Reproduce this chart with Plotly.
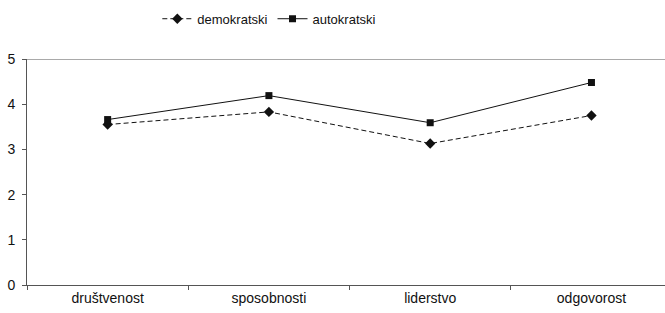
import plotly.graph_objects as go

categories = ["društvenost", "sposobnosti", "liderstvo", "odgovorost"]
demokratski = [3.55, 3.83, 3.13, 3.75]
autokratski = [3.66, 4.19, 3.59, 4.48]
y_ticks = [0, 1, 2, 3, 4, 5]

fig = go.Figure()
fig.add_trace(go.Scatter(
    x=categories, y=demokratski, name="demokratski", mode="lines+markers",
    line=dict(color="#111111", width=1, dash="5px,3px"),
    marker=dict(symbol="diamond", size=8, color="#111111"),
))
fig.add_trace(go.Scatter(
    x=categories, y=autokratski, name="autokratski", mode="lines+markers",
    line=dict(color="#111111", width=1),
    marker=dict(symbol="square", size=7, color="#111111"),
))

fig.update_layout(
    width=665, height=313,
    margin=dict(l=27, r=0, t=59, b=28, autoexpand=False),
    paper_bgcolor="white", plot_bgcolor="white",
    font=dict(family="Liberation Sans, Arial, sans-serif", size=14, color="#111111"),
    showlegend=True,
    legend=dict(orientation="h", x=0.405, xanchor="center", xref="container",
                y=0.94, yanchor="middle", yref="container",
                font=dict(size=13), itemwidth=30, tracegroupgap=0),
    xaxis=dict(
        type="category", range=[-0.5, 3.456], automargin=False,
        showline=True, linecolor="#555555", linewidth=1,
        ticks="outside", tickson="boundaries", ticklen=4, tickcolor="#555555",
        showgrid=False, zeroline=False, mirror=False,
    ),
    yaxis=dict(
        range=[0, 5], tickvals=y_ticks, automargin=False,
        showline=True, linecolor="#555555", linewidth=1,
        ticks="outside", ticklen=4, tickcolor="#555555", ticklabelstandoff=4,
        showgrid=False, zeroline=False,
    ),
    shapes=[dict(type="line", xref="paper", yref="y", x0=0, x1=1, y0=5, y1=5,
                 line=dict(color="#555555", width=1))],
)

fig.write_html("out.html", config={"displayModeBar": False},
               post_script="document.body.style.margin='0';document.body.style.overflow='hidden';")
